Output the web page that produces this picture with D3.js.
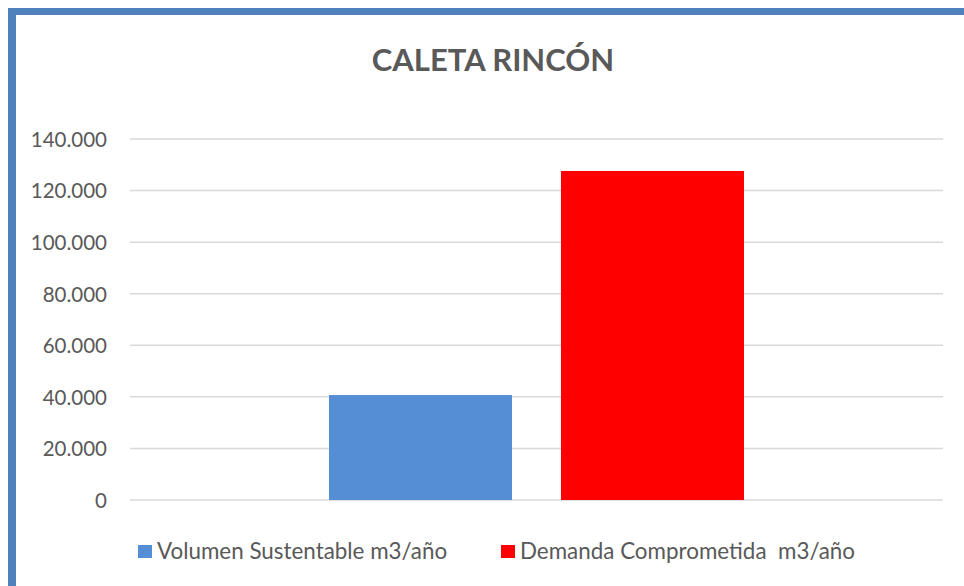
<!DOCTYPE html>
<html>
<head>
<meta charset="utf-8">
<title>Caleta Rincón</title>
<script src="https://cdn.jsdelivr.net/npm/d3@7"></script>
<style>
body { margin: 0; background: #fff; }
text { font-family: Lato, "Liberation Sans", sans-serif; fill: #595959; }
</style>
</head>
<body>
<script>
// chart data
var categories = ["Caleta Rincón"];
var seriesNames = ["Volumen Sustentable m3/año", "Demanda Comprometida  m3/año"];
var seriesValues = [40700, 127600];
var seriesColors = ["#558ed5", "#ff0000"];
var yTicks = [0, 20000, 40000, 60000, 80000, 100000, 120000, 140000];
var title = "CALETA RINCÓN";

var width = 964, height = 586;
var svg = d3.select("body").append("svg").attr("width", width).attr("height", height);

// frame (blue border on top and left)
svg.append("rect").attr("x", 8).attr("y", 8).attr("width", width).attr("height", 7).attr("fill", "#4f81bd");
svg.append("rect").attr("x", 8).attr("y", 8).attr("width", 8).attr("height", height).attr("fill", "#4f81bd");

var plot = {left: 130, right: 943, top: 139, bottom: 500};

var y = d3.scaleLinear().domain([0, 140000]).range([plot.bottom, plot.top]);
var x0 = d3.scaleBand().domain(categories).range([plot.left, plot.right]).paddingOuter(0.4795).paddingInner(0);
var x1 = d3.scaleBand().domain(seriesNames).range([0, x0.bandwidth()]).paddingInner(0.211).paddingOuter(0);

var loc = d3.formatLocale({decimal: ",", thousands: ".", grouping: [3], currency: ["", ""]});
var fmt = loc.format(",");

// gridlines
svg.append("g").selectAll("line").data(yTicks).enter().append("line")
  .attr("x1", plot.left).attr("x2", plot.right)
  .attr("y1", function(d){ return y(d); }).attr("y2", function(d){ return y(d); })
  .attr("stroke", "#d9d9d9").attr("stroke-width", 1.5);

// y axis labels
var yAxis = d3.axisLeft(y).tickValues(yTicks).tickFormat(fmt).tickSize(0).tickPadding(0);
var ya = svg.append("g").attr("transform", "translate(107,0)").call(yAxis);
ya.select(".domain").remove();
ya.selectAll("text").attr("font-size", 20.5).attr("fill", "#595959")
  .style("font-family", "Lato, 'Liberation Sans', sans-serif").attr("dy", "0.36em");

// bars
var g = svg.append("g").selectAll("g").data(categories).enter().append("g")
  .attr("transform", function(d){ return "translate(" + x0(d) + ",0)"; });
g.selectAll("rect").data(seriesNames).enter().append("rect")
  .attr("x", function(d){ return x1(d); })
  .attr("width", x1.bandwidth())
  .attr("y", function(d, i){ return y(seriesValues[i]); })
  .attr("height", function(d, i){ return y(0) - y(seriesValues[i]); })
  .attr("fill", function(d, i){ return seriesColors[i]; });

// title
svg.append("text").attr("x", 493).attr("y", 71).attr("text-anchor", "middle")
  .attr("font-size", 31).attr("font-weight", "bold").text(title);

// legend
var legendX = [138, 501];
var lg = svg.append("g").selectAll("g").data(seriesNames).enter().append("g")
  .attr("transform", function(d, i){ return "translate(" + legendX[i] + ",545)"; });
lg.append("rect").attr("width", 14).attr("height", 13)
  .attr("fill", function(d, i){ return seriesColors[i]; });
lg.append("text").attr("x", 19).attr("y", 14).attr("font-size", 22.4)
  .style("white-space", "pre").text(function(d){ return d; });
</script>
</body>
</html>
